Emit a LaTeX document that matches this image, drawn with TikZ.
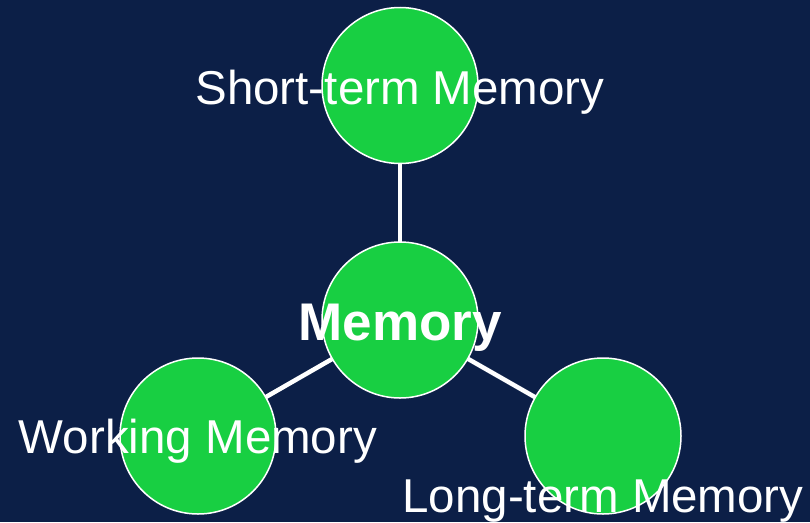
\documentclass[tikz,border=0pt]{standalone}
\usepackage{fontspec}
\setmainfont{Liberation Sans}
\usepackage{xcolor}
\usetikzlibrary{backgrounds}
\definecolor{bgnavy}{RGB}{12,31,71}
\definecolor{leafgreen}{RGB}{24,207,66}

\tikzset{
  bubble/.style={circle, fill=leafgreen, draw=white, line width=1.5pt, minimum size=156pt, inner sep=0pt},
  caption/.style={text=white, anchor=base, inner sep=0pt, font=\fontsize{47.5}{57}\selectfont},
  link/.style={draw=white, line width=4.5pt}
}

\begin{document}
\begin{tikzpicture}[x=1pt,y=-1pt]
\useasboundingbox (0,0) rectangle (810,522);

\node[bubble] (short) at (400,85.5) {};
\node[bubble] (mem) at (400,320) {};
\node[bubble] (work) at (198,436) {};
\node[bubble] (long) at (603,436) {};

% spokes and backdrop sit under the circles
\begin{scope}[on background layer]
\fill[bgnavy] (0,0) rectangle (810,522);
\draw[link] (mem.center) -- (short.center);
\draw[link] (mem.center) -- (work.center);
\draw[link] (mem.center) -- (long.center);
\end{scope}

\node[caption] (shortlbl) at (400,104) {Short-term Memory};
\node[caption, font=\fontsize{53}{63}\selectfont\bfseries] (memlbl) at (400,340) {Memory};
\node[caption] (worklbl) at (198,453) {Working Memory};
\node[caption] (longlbl) at (603,512) {Long-term Memory};
\end{tikzpicture}
\end{document}
